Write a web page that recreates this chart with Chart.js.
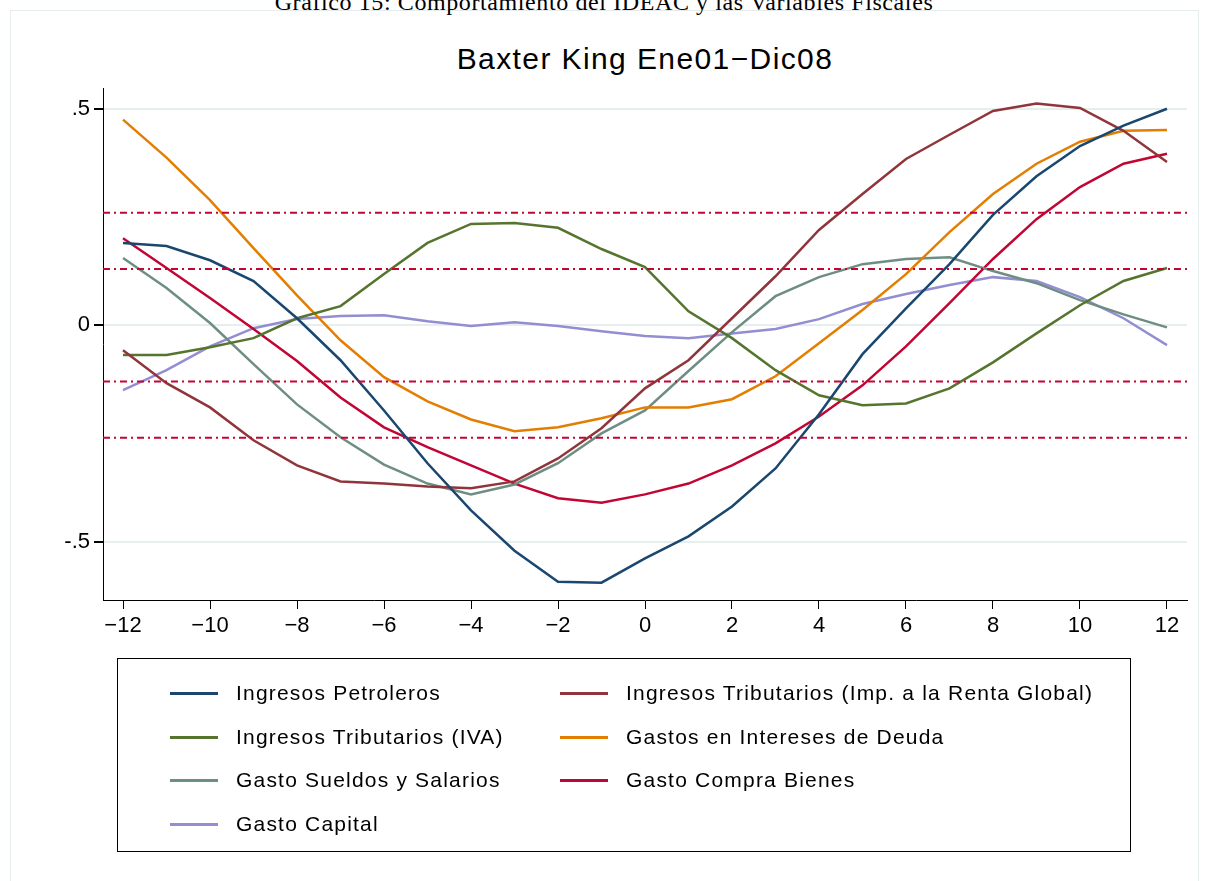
<!DOCTYPE html>
<html><head><meta charset="utf-8">
<script src="https://cdn.jsdelivr.net/npm/chart.js@4.4.1/dist/chart.umd.min.js"></script>
<style>
body{margin:0;background:#fff;font-family:"Liberation Sans",Arial,sans-serif;}
#wrap{position:relative;width:1208px;height:881px;overflow:hidden;}
#frame{position:absolute;left:10px;top:10px;width:1187px;height:900px;border:1px solid #e4ecee;}
#top{position:absolute;top:-11px;left:0;width:1208px;text-align:center;font:24px "Liberation Serif",serif;letter-spacing:0.6px;}
#title{position:absolute;top:42px;left:103px;width:1084px;text-align:center;font-size:30px;letter-spacing:1.4px;}
#legend{position:absolute;left:117px;top:658px;width:1012px;height:192px;border:1px solid #000;font-size:21px;letter-spacing:1.2px;}
.it{position:absolute;}
.it span{position:absolute;top:-2px;left:52px;width:48px;height:3px;}
.it b{font-weight:normal;position:absolute;left:118px;top:-13px;white-space:nowrap;}
canvas{position:absolute;left:0;top:0;}
</style></head>
<body><div id="wrap">
<div id="frame"></div>
<div id="top">Gráfico 15: Comportamiento del IDEAC y las Variables Fiscales</div>
<div id="title">Baxter King Ene01−Dic08</div>
<canvas id="c" width="1208" height="881"></canvas>
<div id="legend"></div>
</div>
<script>
const lags = [-12,-11,-10,-9,-8,-7,-6,-5,-4,-3,-2,-1,0,1,2,3,4,5,6,7,8,9,10,11,12];
const petroleros = [.190,.183,.150,.102,.016,-.081,-.197,-.319,-.428,-.521,-.593,-.595,-.539,-.488,-.419,-.331,-.206,-.067,.039,.141,.255,.344,.414,.461,.500];
const rentaGlobal = [-.058,-.134,-.190,-.266,-.324,-.361,-.366,-.373,-.377,-.361,-.308,-.238,-.146,-.081,.016,.113,.220,.303,.384,.440,.495,.512,.502,.449,.377];
const iva = [-.069,-.069,-.051,-.030,.016,.044,.118,.190,.234,.236,.225,.176,.134,.032,-.030,-.104,-.162,-.185,-.181,-.146,-.086,-.019,.046,.102,.132];
const intereses = [.475,.387,.289,.178,.069,-.035,-.120,-.176,-.218,-.245,-.236,-.215,-.190,-.190,-.171,-.118,-.042,.035,.118,.215,.303,.373,.424,.449,.451];
const sueldos = [.155,.086,.005,-.090,-.183,-.259,-.322,-.366,-.391,-.368,-.319,-.250,-.197,-.106,-.016,.067,.111,.141,.153,.157,.125,.097,.058,.025,-.005];
const compraBienes = [.201,.132,.063,-.009,-.083,-.167,-.236,-.282,-.324,-.366,-.400,-.410,-.391,-.366,-.324,-.273,-.211,-.139,-.049,.051,.153,.245,.319,.373,.396];
const capital = [-.150,-.104,-.049,-.007,.014,.021,.023,.009,-.002,.007,-.002,-.014,-.025,-.030,-.019,-.009,.014,.049,.072,.093,.111,.102,.065,.016,-.046];
const bands = [.26,.13,-.13,-.26];
const xTicks = [-12,-10,-8,-6,-4,-2,0,2,4,6,8,10,12];
const yTicks = [-.5,0,.5];

const series = [
  ['Ingresos Petroleros', petroleros, '#1a476f'],
  ['Ingresos Tributarios (Imp. a la Renta Global)', rentaGlobal, '#90353b'],
  ['Ingresos Tributarios (IVA)', iva, '#55752f'],
  ['Gastos en Intereses de Deuda', intereses, '#e37e00'],
  ['Gasto Sueldos y Salarios', sueldos, '#6e8e84'],
  ['Gasto Compra Bienes', compraBienes, '#c10534'],
  ['Gasto Capital', capital, '#938dd2']
];
const datasets = bands.map(b => ({
  data: [{x:-12.46,y:b},{x:12.46,y:b}], borderColor:'#c10534', borderWidth:2,
  borderDash:[7,4,2,4], pointRadius:0
}));
series.forEach(s => datasets.push({
  label:s[0], data: lags.map((x,i)=>({x, y:s[1][i]})), borderColor:s[2],
  borderWidth:2.5, pointRadius:0, tension:0
}));

const leg = document.getElementById('legend');
series.forEach((s,i) => {
  const d = document.createElement('div');
  d.className = 'it';
  d.style.left = (i%2 ? 390 : 0) + 'px';
  d.style.top = (35 + Math.floor(i/2)*43.5) + 'px';
  d.innerHTML = `<span style="background:${s[2]}"></span><b>${s[0]}</b>`;
  leg.appendChild(d);
});

new Chart(document.getElementById('c'), {
  type:'line',
  data:{datasets},
  options:{
    responsive:false, animation:false,
    layout:{padding:{top:88,right:21,left:0,bottom:0}},
    plugins:{legend:{display:false},tooltip:{enabled:false}},
    scales:{
      x:{type:'linear', min:-12.46, max:12.46,
        afterBuildTicks: a => { a.ticks = xTicks.map(v=>({value:v})); },
        afterFit: a => { a.height = 281; },
        ticks:{color:'#000', font:{size:22, family:'Liberation Sans'}, padding:4,
          callback: v => v < 0 ? '\u2212' + Math.abs(v) : String(v)},
        grid:{drawOnChartArea:false, color:'#000', tickLength:9},
        border:{color:'#000', width:1}},
      y:{min:-.635, max:.548,
        afterBuildTicks: a => { a.ticks = yTicks.map(v=>({value:v})); },
        afterFit: a => { a.width = 103; },
        ticks:{color:'#000', font:{size:22, family:'Liberation Sans'}, padding:4,
          callback: v => v === 0 ? '0' : (v < 0 ? '-.5' : '.5')},
        grid:{color:'#e6eff0', lineWidth:2, tickColor:'#000', tickLength:9},
        border:{color:'#000', width:1}}
    }
  }
});
</script>
</body></html>
